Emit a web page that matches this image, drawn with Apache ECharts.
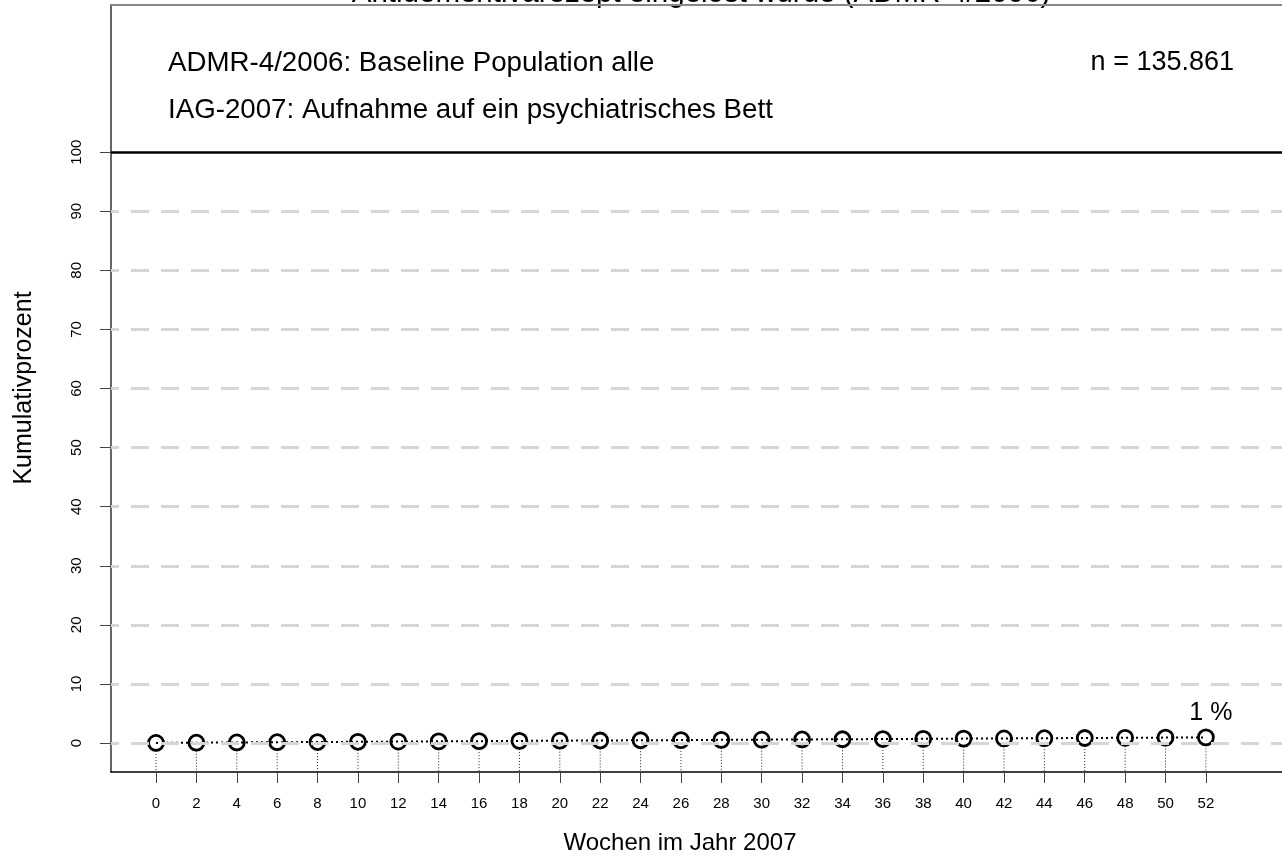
<!DOCTYPE html>
<html>
<head>
<meta charset="utf-8">
<script src="https://cdn.jsdelivr.net/npm/echarts@6/dist/echarts.min.js"></script>
<style>
html,body{margin:0;padding:0;background:#fff;}
#chart{width:1282px;height:865px;}
</style>
</head>
<body>
<div id="chart"></div>
<script>
// ---- data ----
const weeks = [0,2,4,6,8,10,12,14,16,18,20,22,24,26,28,30,32,34,36,38,40,42,44,46,48,50,52];
const cumPct = [0.02,0.06,0.10,0.14,0.17,0.21,0.25,0.29,0.32,0.36,0.40,0.43,0.47,0.50,0.54,0.57,0.61,0.64,0.68,0.71,0.75,0.78,0.82,0.85,0.89,0.92,0.96];
const xTicks = [0,2,4,6,8,10,12,14,16,18,20,22,24,26,28,30,32,34,36,38,40,42,44,46,48,50,52];
const yTicks = [0,10,20,30,40,50,60,70,80,90,100];
const titleText = 'Antidementivarezept eingelöst wurde (ADMR-4/2006)';
const line1 = 'ADMR-4/2006: Baseline Population alle';
const line2 = 'IAG-2007: Aufnahme auf ein psychiatrisches Bett';
const nText = 'n = 135.861';
const xTitle = 'Wochen im Jahr 2007';
const yTitle = 'Kumulativprozent';

const X_MIN = -2.23, X_MAX = 55.77, Y_MIN = -4.9, Y_MAX = 124.9;
const FONT = "'Liberation Sans', Arial, Helvetica, sans-serif";

const chart = echarts.init(document.getElementById('chart'), null, {renderer:'canvas'});
const pts = weeks.map((w,i)=>[w, cumPct[i]]);
const last = pts.length - 1;

const gridLines = yTicks.filter(v=>v<100).map(v=>({
  yAxis: v,
  lineStyle:{color:'#d6d6d6', width:3, type:[18,12], dashOffset:10}
}));
gridLines.push({yAxis:100, lineStyle:{color:'#000', width:2.5, type:'solid'}});

const option = {
  animation:false,
  backgroundColor:'#fff',
  textStyle:{fontFamily:FONT},
  grid:{left:111, right:0, top:5, bottom:93},
  xAxis:{
    type:'value', min:X_MIN, max:X_MAX,
    axisLine:{show:true, onZero:false, lineStyle:{color:'#000', width:1.5}},
    axisTick:{show:true, customValues:xTicks, length:11, lineStyle:{color:'#444', width:1}},
    axisLabel:{customValues:xTicks, fontSize:15, color:'#000', margin:24, fontFamily:FONT},
    splitLine:{show:false}
  },
  yAxis:{
    type:'value', min:Y_MIN, max:Y_MAX,
    axisLine:{show:true, onZero:false, lineStyle:{color:'#666', width:2}},
    axisTick:{show:true, customValues:yTicks, length:11, lineStyle:{color:'#444', width:1}},
    axisLabel:{customValues:yTicks, rotate:90, fontSize:15, color:'#000', margin:27, fontFamily:FONT},
    splitLine:{show:false}
  },
  series:[
    {
      type:'line', data:[], silent:true, z:1,
      markLine:{silent:true, symbol:['none','none'], label:{show:false}, data:gridLines, animation:false}
    },
    {
      type:'custom', z:2, silent:true,
      data: pts,
      renderItem:function(params, api){
        const p = api.coord([api.value(0), api.value(1)]);
        const b = api.coord([api.value(0), Y_MIN]);
        return {type:'line', shape:{x1:p[0], y1:p[1]+8, x2:b[0], y2:b[1]},
          style:{stroke:'#222', lineWidth:1, lineDash:[1,2]}};
      }
    },
    {
      type:'line', z:3,
      data: pts.map((p,i)=> i===last ? {value:p, label:{show:true, position:'top', distance:3, offset:[5,0],
          formatter: Math.round(p[1]) + ' %', fontSize:25, color:'#000', fontFamily:FONT}} : p),
      symbol:'circle', symbolSize:15,
      itemStyle:{color:'rgba(0,0,0,0)', borderColor:'#000', borderWidth:2.8},
      lineStyle:{color:'#000', width:2, type:[2,3]}
    }
  ],
  graphic:[
    {type:'line', shape:{x1:111, y1:5, x2:1282, y2:5}, style:{stroke:'#888', lineWidth:2}, z:10},
    {type:'text', x:701, y:9, style:{text:titleText, font:'29.5px '+FONT, fill:'#000', textAlign:'center', textVerticalAlign:'bottom'}},
    {type:'text', x:168, y:63, style:{text:line1, font:'27.7px '+FONT, fill:'#000', textAlign:'left', textVerticalAlign:'middle'}},
    {type:'text', x:168, y:110, style:{text:line2, font:'27.7px '+FONT, fill:'#000', textAlign:'left', textVerticalAlign:'middle'}},
    {type:'text', x:1234, y:63, style:{text:nText, font:'27px '+FONT, fill:'#000', textAlign:'right', textVerticalAlign:'middle'}},
    {type:'text', x:680, y:843, style:{text:xTitle, font:'24px '+FONT, fill:'#000', textAlign:'center', textVerticalAlign:'middle'}},
    {type:'text', x:24, y:388, rotation:Math.PI/2, style:{text:yTitle, font:'25px '+FONT, fill:'#000', textAlign:'center', textVerticalAlign:'middle'}}
  ]
};
chart.setOption(option);
</script>
</body>
</html>
